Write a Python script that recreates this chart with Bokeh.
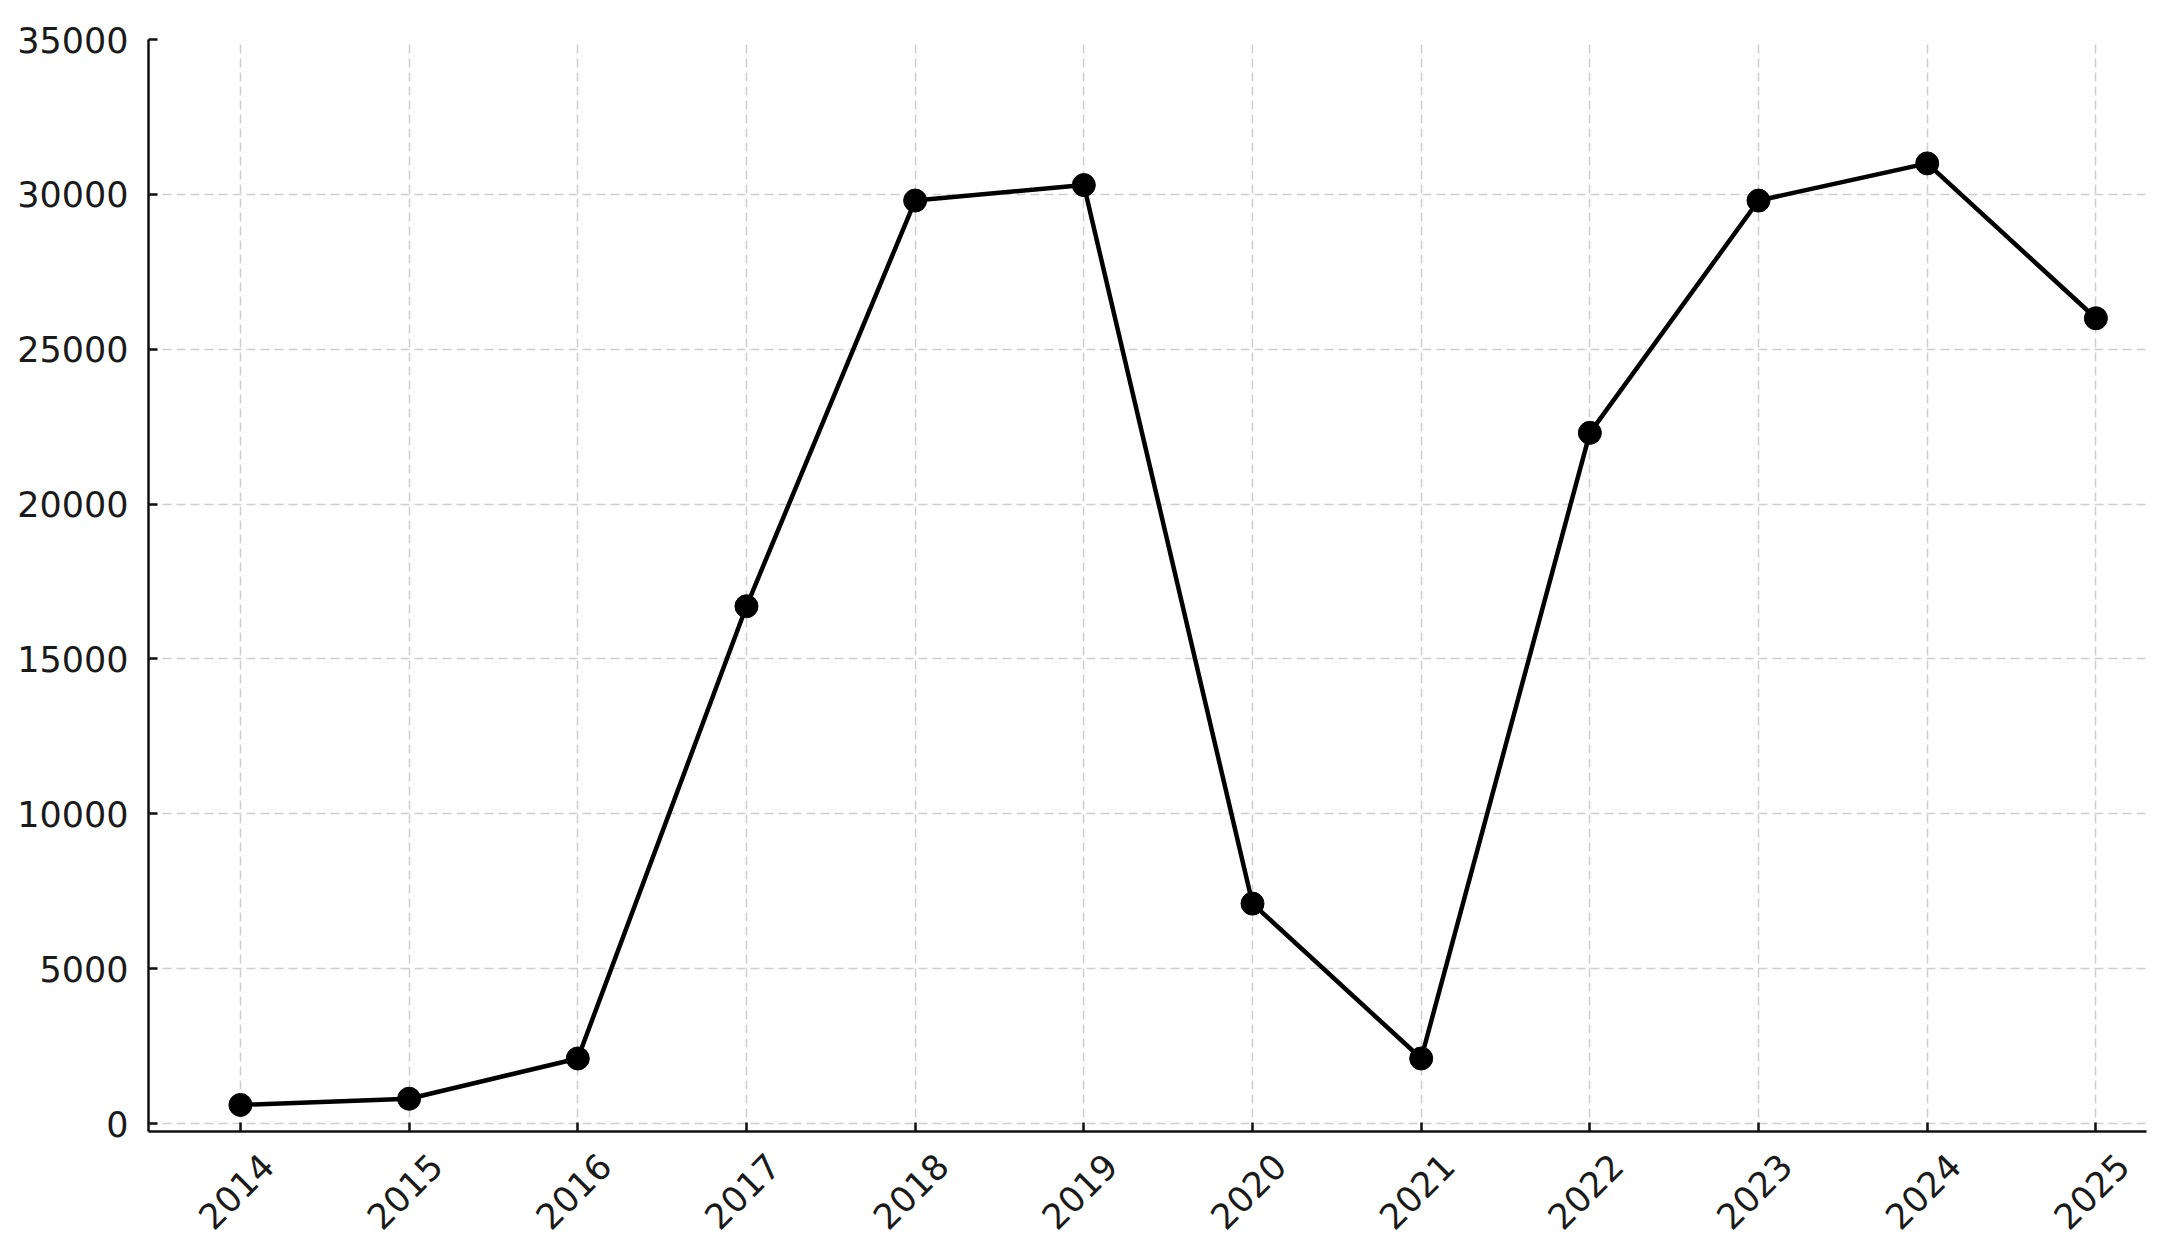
import math
from bokeh.plotting import figure
from bokeh.models import Range1d, FixedTicker, LinearAxis
from bokeh.embed import file_html
from bokeh.resources import INLINE

years = [2014, 2015, 2016, 2017, 2018, 2019, 2020, 2021, 2022, 2023, 2024, 2025]
values = [600, 800, 2100, 16700, 29800, 30300, 7100, 2100, 22300, 29800, 31000, 26000]
y_ticks = [0, 5000, 10000, 15000, 20000, 25000, 30000, 35000]
year_labels = [str(y) for y in years]

FONT = "DejaVu Sans"
FSIZE = "35px"
TXT = "#1a1a1a"

X0, X1 = 2013.455, 2025.3
SHIFT = 0.16  # label anchor shift (years) so rotated labels sit centred under ticks

p = figure(
    width=2152, height=1236,
    frame_width=1998, frame_height=1092,
    min_border_left=148, min_border_right=6,
    min_border_top=39, min_border_bottom=40,
    x_range=Range1d(X0, X1),
    y_range=Range1d(-258, 35000),
    output_backend="svg", toolbar_location=None,
)
p.extra_x_ranges = {"labels": Range1d(X0 - SHIFT, X1 - SHIFT)}
p.outline_line_color = None
p.background_fill_color = "white"
p.border_fill_color = "white"

p.line(years, values, line_color="black", line_width=4.5)
p.scatter(years, values, size=23, fill_color="black", line_color="black")

for ax in (p.xaxis[0], p.yaxis[0]):
    ax.axis_line_color = "#111111"
    ax.axis_line_width = 2.5
    ax.major_tick_line_color = "#111111"
    ax.major_tick_line_width = 2.5
    ax.major_tick_in = 9
    ax.major_tick_out = 0
    ax.minor_tick_line_color = None
    ax.major_label_text_font = FONT
    ax.major_label_text_font_size = FSIZE
    ax.major_label_text_color = TXT

p.xaxis[0].ticker = FixedTicker(ticks=years)
p.xaxis[0].major_label_overrides = {y: "" for y in years}
p.xaxis[0].major_label_text_font_size = "0px"
p.xaxis[0].major_label_standoff = 0
p.yaxis.ticker = FixedTicker(ticks=y_ticks)
p.yaxis.major_label_standoff = 20

lab_axis = LinearAxis(
    x_range_name="labels",
    ticker=FixedTicker(ticks=years),
    major_label_overrides={y: t for y, t in zip(years, year_labels)},
    axis_line_color=None,
    major_tick_line_color=None,
    minor_tick_line_color=None,
    major_tick_in=0, major_tick_out=0,
    major_label_orientation=math.pi / 4,
    major_label_standoff=28,
    major_label_text_font=FONT,
    major_label_text_font_size=FSIZE,
    major_label_text_color=TXT,
)
p.add_layout(lab_axis, "below")

for g in (p.xgrid[0], p.ygrid[0]):
    g.grid_line_color = "#cfcfcf"
    g.grid_line_width = 1.5
    g.grid_line_dash = "9 5"
p.xgrid.ticker = FixedTicker(ticks=years)
p.ygrid.ticker = FixedTicker(ticks=y_ticks)

open("out.html", "w").write(file_html(p, INLINE))
